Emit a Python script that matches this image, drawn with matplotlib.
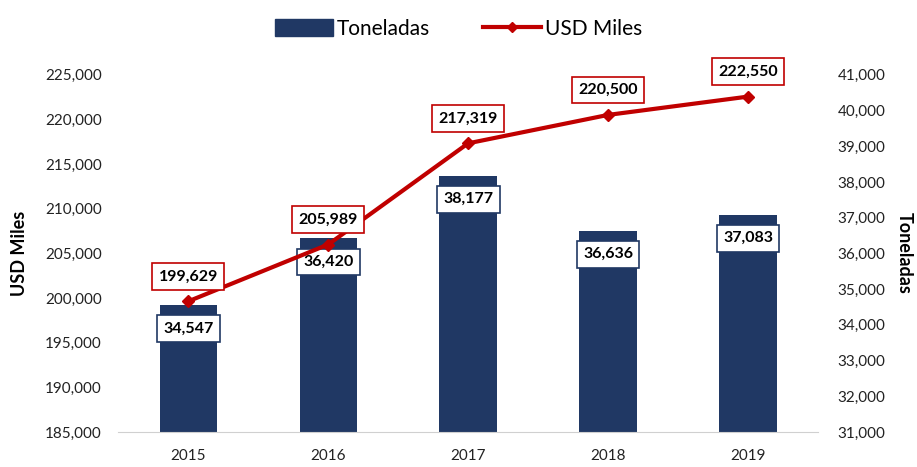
import matplotlib
matplotlib.use("Agg")
import matplotlib.pyplot as plt
from matplotlib.ticker import FuncFormatter
from matplotlib.patches import Patch
from matplotlib.lines import Line2D

plt.rcParams['font.family'] = ['Lato', 'DejaVu Sans']

years = ['2015', '2016', '2017', '2018', '2019']
toneladas = [34547, 36420, 38177, 36636, 37083]
usd_miles = [199629, 205989, 217319, 220500, 222550]

navy = '#203864'
red = '#C00000'

fig = plt.figure(figsize=(9.17, 4.67), dpi=100)
ax = fig.add_axes([0.129, 0.075, 0.763, 0.765])  # left axis: USD Miles (line)
ax2 = ax.twinx()                                  # right axis: Toneladas (bars)

x = range(len(years))

# bars on the secondary axis, drawn below the line
ax2.bar(x, toneladas, width=0.41, color=navy, zorder=2)
ax2.set_ylim(31000, 41000)
ax2.set_yticks(range(31000, 41001, 1000))

ax.set_zorder(ax2.get_zorder() + 1)
ax.patch.set_visible(False)
ax.plot(x, usd_miles, color=red, lw=3, marker='D', ms=6, zorder=3)
ax.set_ylim(185000, 225000)
ax.set_yticks(range(185000, 225001, 5000))
ax.set_xlim(-0.5, len(years) - 0.5)
ax.set_xticks(list(x))
ax.set_xticklabels(years)

fmt = FuncFormatter(lambda v, p: f'{v:,.0f}')
ax.yaxis.set_major_formatter(fmt)
ax2.yaxis.set_major_formatter(fmt)

for a in (ax, ax2):
    for s in a.spines.values():
        s.set_visible(False)
    a.tick_params(length=0, labelsize=11, colors='#222222')
ax.spines['bottom'].set_visible(True)
ax.spines['bottom'].set_color('#d0d0d0')
ax.tick_params(axis='y', pad=12)
ax2.tick_params(axis='y', pad=14)
ax.tick_params(axis='x', pad=12)

ax.set_ylabel('USD Miles', fontsize=13, fontweight='bold', labelpad=12)
ax2.set_ylabel('Toneladas', fontsize=13, fontweight='bold', rotation=270, labelpad=20)

# data labels
for i, v in enumerate(toneladas):
    ax2.annotate(f'{v:,}', (i, v), xytext=(0, -17), textcoords='offset points',
                 ha='center', va='center', fontsize=11.5, fontweight='bold',
                 bbox=dict(boxstyle='square,pad=0.4', fc='white', ec=navy, lw=1.2),
                 zorder=4)
for i, v in enumerate(usd_miles):
    ax.annotate(f'{v:,}', (i, v), xytext=(0, 18), textcoords='offset points',
                ha='center', va='center', fontsize=11.5, fontweight='bold',
                bbox=dict(boxstyle='square,pad=0.4', fc='white', ec=red, lw=1.2),
                zorder=5)

# legend
handles = [Patch(color=navy, label='Toneladas'),
           Line2D([], [], color=red, lw=3, marker='D', ms=5, label='USD Miles')]
fig.legend(handles=handles, loc='upper center', bbox_to_anchor=(0.5, 1.0), ncol=2,
           frameon=False, fontsize=15, handlelength=2.8, handleheight=0.9,
           columnspacing=2.5, handletextpad=0.2)

fig.savefig('out.png', dpi=100)
